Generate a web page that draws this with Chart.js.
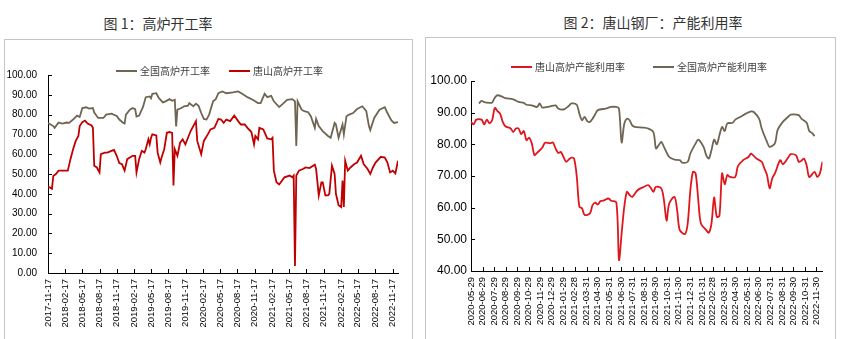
<!DOCTYPE html>
<html>
<head>
<meta charset="utf-8">
<script src="https://cdn.jsdelivr.net/npm/chart.js@4.4.1/dist/chart.umd.min.js"></script>
<style>
  body { margin: 0; background: #fff; width: 846px; height: 339px; overflow: hidden; position: relative; }
  .box { position: absolute; border: 1px solid #c4c4c4; }
  .title { position: absolute; width: 220px; text-align: center; font: 14px "Noto Sans CJK SC", sans-serif; color: #333; }
  .wrap { position: absolute; }
  .leg { position: absolute; font: 10px "Noto Sans CJK SC", sans-serif; color: #404040; white-space: nowrap; line-height: 12px; }
  .leg i { display: inline-block; width: 21px; height: 2px; vertical-align: middle; margin-right: 3px; position: relative; top: -1px; }
</style>
</head>
<body>
<div class="box" style="left:4px;top:39px;width:407px;height:320px"></div>
<div class="box" style="left:425px;top:37px;width:409px;height:320px"></div>
<div class="title" style="left:48px;top:13px">图 1：高炉开工率</div>
<div class="title" style="left:543px;top:12px">图 2：唐山钢厂：产能利用率</div>

<div class="wrap" style="left:5px;top:40px;width:407px;height:299px"><canvas id="c1"></canvas></div>
<div class="wrap" style="left:426px;top:40px;width:408px;height:299px"><canvas id="c2"></canvas></div>

<div class="leg" style="left:116px;top:65px"><i style="background:#6f6553"></i>全国高炉开工率</div>
<div class="leg" style="left:229px;top:65px"><i style="background:#c00000"></i>唐山高炉开工率</div>
<div class="leg" style="left:511px;top:61px"><i style="background:#e0161d"></i>唐山高炉产能利用率</div>
<div class="leg" style="left:653px;top:61px"><i style="background:#6f6553"></i>全国高炉产能利用率</div>

<script>
// 图1：周度数据，横轴为自 2017-11-17 起的周序号
const start1 = '2017-11-17';
const tickLabels1 = ['2017-11-17','2018-02-17','2018-05-17','2018-08-17','2018-11-17','2019-02-17','2019-05-17',
  '2019-08-17','2019-11-17','2020-02-17','2020-05-17','2020-08-17','2020-11-17','2021-02-17','2021-05-17',
  '2021-08-17','2021-11-17','2022-02-17','2022-05-17','2022-08-17','2022-11-17'];

const qgWeeks = [0,4,5,8,11,14,16,19,22,24,26,29,31,34,35,38,42,44,48,52,54,57,58,59,62,64,66,67,69,72,
  74,77,78,79,82,84,87,89,92,94,96,97,98,101,103,106,107,110,112,114,116,118,120,122,125,127,129,132,135,140,
  144,147,151,155,159,161,164,166,169,171,175,178,181,185,187,188,189,192,194,197,199,202,203,205,208,212,214,217,218,220,
  223,224,226,228,231,234,238,241,243,244,247,251,255,257,260,262,265];
const qgOpen = [75.8,74.2,73.3,76,75.5,76,75.8,77.5,79.5,78.8,83.3,83.7,83,83.3,81,78.3,78.3,80,80.5,79.3,
  77.5,75.8,75.5,80,82.5,83.3,82.8,79,79.5,84,88.8,89.2,88.3,90.5,90.8,88.3,86.2,86.7,87.8,87,
  87.5,74,82.5,83.3,84.2,84.5,85.8,84.2,85.5,84.5,80.8,77.8,77.5,80,86.7,87.8,90.8,91.7,90.8,91.2,
  91.7,90.5,88.8,87.5,85.8,85.8,90.5,88.8,89.5,86.7,83.8,85.5,87.5,87.8,86.7,64.2,86.7,82.5,81.7,81.2,
  79.2,73.3,77.8,74.2,71.7,69.2,68.3,75.8,75,68.3,75,70,79.2,80,80.8,82.8,84.2,81.7,74.2,72.2,
  78.3,82.5,83.7,80.8,77,75.8,76.2];

const tsWeeks = [0,3,4,6,8,11,15,17,19,21,23,24,26,28,30,33,34,35,37,39,40,43,45,48,50,52,54,56,58,60,
  64,66,67,69,71,73,74,76,77,78,79,82,83,85,86,88,90,92,94,95,96,98,100,102,104,106,108,112,113,116,
  118,121,123,126,129,131,133,135,138,141,144,146,149,151,154,156,157,159,160,163,166,169,170,171,173,175,179,183,185,186,
  187,188,190,193,195,198,202,203,205,207,208,210,212,213,215,217,218,220,222,223,224,225,227,229,232,234,237,239,242,244,
  246,248,252,255,257,259,261,263,265];
const tsOpen = [43.7,42.5,49,50,51.7,51.7,51.7,57.5,62.5,66.7,69.2,74.2,76.2,77,75.5,74.5,73.3,54.2,53.3,50.8,
  60,60.8,60.8,61.7,62.2,59.2,55.5,55,51.7,57.5,59.2,59.2,50.8,57.5,61.7,60.8,62.5,67.5,65,68.3,
  70,69.5,60.8,55.8,58.3,62.5,70.8,71.2,70.8,44.2,62.5,59.2,65.8,67.5,65,68.3,71.7,76.7,66.7,60,
  66.7,70,72.5,73.3,77.8,77.5,75.8,77.5,76.7,79.5,76.7,75,75,73.3,71.2,65,69.2,67.5,73.3,72.5,
  68,67.5,68.3,51.7,45.8,44.7,48.3,49.2,48.3,49.2,3.5,49.2,51.7,52.5,53.3,53,54.7,52.5,39.2,45.8,
  45.8,39.2,39.2,40,54.2,50,40,34.2,33.3,46.7,33.3,56.7,51.7,53.3,55,55.8,59.2,55,52.5,50,
  53.3,55.8,58.7,58.3,55.8,50.8,51.7,50.3,56.7];

// 图2：周度数据，横轴为自 2020-05-29 起的周序号
const start2 = '2020-05-29';
const tickLabels2 = ['2020-05-29','2020-06-29','2020-07-29','2020-08-29','2020-09-29','2020-10-29','2020-11-29',
  '2020-12-29','2021-01-29','2021-02-28','2021-03-31','2021-04-30','2021-05-31','2021-06-30','2021-07-31',
  '2021-08-31','2021-09-30','2021-10-31','2021-11-30','2021-12-31','2022-01-31','2022-02-28','2022-03-31',
  '2022-04-30','2022-05-31','2022-06-30','2022-07-31','2022-08-31','2022-09-30','2022-10-31','2022-11-30'];

const tsCapWeeks = [0,1,2,4,5,6,7,8,9,10,11,12,13,15,16,17,18,19,20,21,22,23,24,25,27,28,30,31,32,33,
  34,35,36,37,38,39,40,41,42,43,45,46,47,48,49,50,52,53,55,56,57,58,59,60,61,63,65,67,68,69,
  70,72,73,74,75,77,78,79,81,82,83,84,85,86,87,89,90,91,92,93,94,95,96,97,98,100,101,103,105,106,
  108,110,111,112,113,114,115,117,118,120,121,123,124,125,126,127,128,130,131,132,133];
const tsCap = [87.1,86.3,87.8,87.8,86.3,87.8,86.6,87.6,91.5,90.5,89.7,87.1,85.7,85,83.9,85,85,83.2,84.2,81.3,
  82.1,80.3,76.6,77.3,79,80.5,80.3,80.6,78.7,77.3,77.6,76,74.5,75.2,75.8,75.5,70,60.3,59.8,57.7,
  58.2,60.8,61.6,61,62.1,62.2,62.9,62.2,61.6,43.5,51.9,60.3,65,64,63.4,65.5,66.4,67.1,66.3,65,
  66.6,66.1,62.4,55.9,61.3,63.4,59.2,52.9,51.7,55,65.5,71.3,70.8,62.4,55,52.9,52.1,55,63.2,57.1,
  57.4,70.8,67.4,70.3,69.7,69.7,73.1,75,76,77.1,75.5,74.5,72.4,70.3,66.1,69.3,70.8,75,73.7,75.8,
  76.9,76.5,74.5,74.8,75.5,73.4,69.7,71.3,69.7,70.8,74.5];

const qgCapWeeks = [3,4,5,7,8,9,10,12,13,16,18,20,21,23,25,26,27,30,32,33,35,37,38,40,41,42,43,44,45,46,
  47,48,51,53,55,56,57,58,59,60,61,62,65,67,69,70,71,72,73,75,77,79,80,82,83,85,86,88,89,90,
  91,92,93,94,95,96,97,99,100,102,104,106,107,109,110,112,113,115,116,118,120,121,124,125,127,128,129,130];
const qgCap = [92.9,93.7,93.3,93.1,93.2,94.7,95.5,95,94.6,94.2,93.4,93.1,92.5,92.3,91.8,92.9,91.6,92,92.3,91.3,
  91,92.1,92.9,92.5,89.7,87.6,88.7,87.3,87.1,88.1,89.5,90.8,91.3,91.8,91.8,91.3,80.6,86.5,88.1,87.6,
  86,85.5,85.3,85,83.9,78.7,79.7,80.8,79.2,76,75.2,75,74.2,74.5,77.1,80.3,81.5,79.2,76.6,75.5,
  78.2,81.5,80,82.9,85.5,84.2,86.6,86.8,87.8,88.7,89.7,90.4,90.2,88.1,85,80.8,79.2,80.3,84.5,87.1,
  88.7,89.4,89.2,88.1,86.8,84.2,83.6,82.6];

const DAY = 86400000;
const dayOf = (s, base) => Math.round((Date.parse(s) - Date.parse(base)) / DAY);
const toPoints = (weeks, vals) => weeks.map((w, i) => ({ x: w * 7, y: vals[i] }));

// 刻度线画在坐标轴内侧
const innerTicks = {
  id: 'innerTicks',
  afterDraw(chart) {
    const { ctx, chartArea: a, scales: { x, y } } = chart;
    ctx.save();
    ctx.strokeStyle = '#000';
    ctx.lineWidth = 1;
    ctx.beginPath();
    x.ticks.forEach(t => {
      const px = Math.round(x.getPixelForValue(t.value)) + 0.5;
      ctx.moveTo(px, a.bottom);
      ctx.lineTo(px, a.bottom - 4);
    });
    y.ticks.forEach(t => {
      const py = Math.round(y.getPixelForValue(t.value)) + 0.5;
      ctx.moveTo(a.left, py);
      ctx.lineTo(a.left + 4, py);
    });
    ctx.stroke();
    ctx.restore();
  }
};

function makeChart(id, cfg) {
  const tickDays = cfg.tickLabels.map(s => dayOf(s, cfg.start));
  const labelOf = {};
  cfg.tickLabels.forEach((s, i) => { labelOf[tickDays[i]] = s; });
  return new Chart(document.getElementById(id), {
    type: 'line',
    data: {
      datasets: cfg.series.map(s => ({
        label: s.label,
        data: toPoints(s.weeks, s.vals),
        borderColor: s.color,
        borderWidth: 1.8,
        pointRadius: 0,
        tension: cfg.tension,
        fill: false
      }))
    },
    options: {
      responsive: true,
      maintainAspectRatio: false,
      animation: false,
      layout: { padding: cfg.padding },
      plugins: { legend: { display: false }, tooltip: { enabled: false } },
      scales: {
        x: {
          type: 'linear',
          min: 0,
          max: cfg.xMax,
          grid: { display: false, drawTicks: false },
          border: { display: true, color: '#000', width: 1 },
          afterBuildTicks: scale => { scale.ticks = tickDays.map(v => ({ value: v })); },
          afterFit: scale => { scale.height = cfg.xHeight; },
          ticks: {
            autoSkip: false,
            minRotation: 90,
            maxRotation: 90,
            padding: 6,
            color: '#000',
            font: { family: 'Liberation Sans', size: 9.5 },
            callback: v => labelOf[v] || ''
          }
        },
        y: {
          min: cfg.yMin,
          max: 100,
          grid: { display: false, drawTicks: false },
          border: { display: true, color: '#000', width: 1 },
          afterFit: scale => { scale.width = cfg.yWidth; },
          ticks: {
            stepSize: 10,
            padding: cfg.yPad,
            color: '#000',
            font: { family: 'Liberation Sans', size: cfg.yFont },
            callback: v => v.toFixed(2)
          }
        }
      }
    },
    plugins: [innerTicks]
  });
}

makeChart('c1', {
  start: start1,
  tickLabels: tickLabels1,
  xMax: 265 * 7,
  yMin: 0,
  yWidth: 43,
  yPad: 11,
  yFont: 10,
  xHeight: 66,
  tension: 0,
  padding: { top: 35, right: 14, left: 0, bottom: 0 },
  series: [
    { label: '全国高炉开工率', weeks: qgWeeks, vals: qgOpen, color: '#6f6553' },
    { label: '唐山高炉开工率', weeks: tsWeeks, vals: tsOpen, color: '#c00000' }
  ]
});

makeChart('c2', {
  start: start2,
  tickLabels: tickLabels2,
  xMax: 133 * 7,
  yMin: 40,
  yWidth: 45,
  yPad: 4,
  yFont: 12,
  xHeight: 68,
  tension: 0.3,
  padding: { top: 41, right: 9, left: 0, bottom: 0 },
  series: [
    { label: '唐山高炉产能利用率', weeks: tsCapWeeks, vals: tsCap, color: '#e0161d' },
    { label: '全国高炉产能利用率', weeks: qgCapWeeks, vals: qgCap, color: '#6f6553' }
  ]
});
</script>
</body>
</html>
